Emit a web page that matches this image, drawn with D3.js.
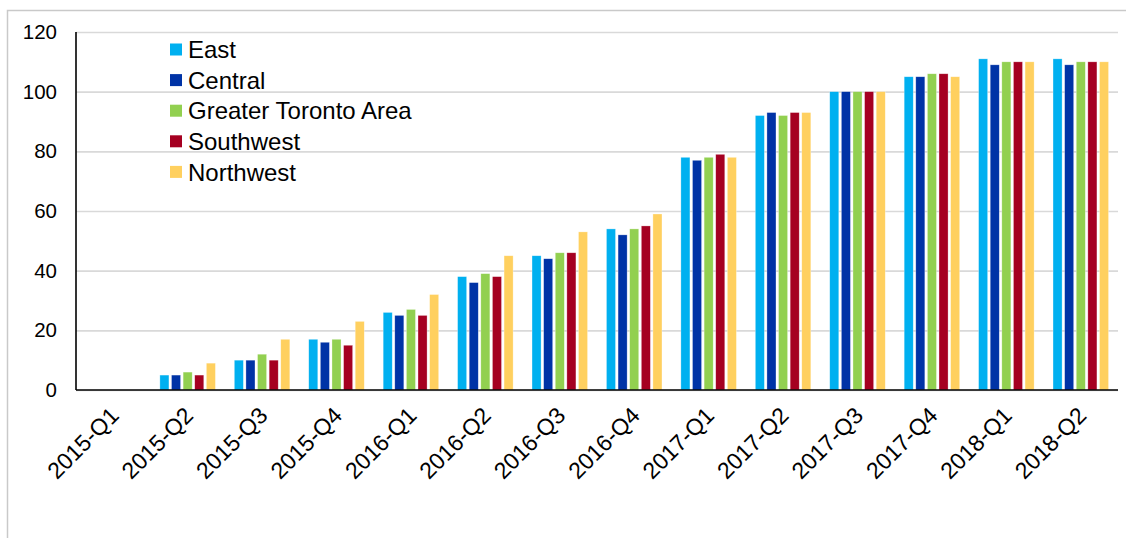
<!DOCTYPE html>
<html>
<head>
  <meta charset="utf-8">
  <script src="https://cdn.jsdelivr.net/npm/d3@7"></script>
  <style>
    body { margin: 0; background: #fff; }
    text { font-family: "Liberation Sans", Arial, sans-serif; fill: #000; }
  </style>
</head>
<body>
<script>
  // quarters along the x axis
  var quarters = ["2015-Q1", "2015-Q2", "2015-Q3", "2015-Q4", "2016-Q1", "2016-Q2", "2016-Q3",
                  "2016-Q4", "2017-Q1", "2017-Q2", "2017-Q3", "2017-Q4", "2018-Q1", "2018-Q2"];

  // one array per region
  var east      = [0, 5, 10, 17, 26, 38, 45, 54, 78, 92, 100, 105, 111, 111];
  var central   = [0, 5, 10, 16, 25, 36, 44, 52, 77, 93, 100, 105, 109, 109];
  var gta       = [0, 6, 12, 17, 27, 39, 46, 54, 78, 92, 100, 106, 110, 110];
  var southwest = [0, 5, 10, 15, 25, 38, 46, 55, 79, 93, 100, 106, 110, 110];
  var northwest = [0, 9, 17, 23, 32, 45, 53, 59, 78, 93, 100, 105, 110, 110];

  var regions = ["East", "Central", "Greater Toronto Area", "Southwest", "Northwest"];
  var regionValues = [east, central, gta, southwest, northwest];
  var colors = ["#00B0F0", "#0033A6", "#92D050", "#A50021", "#FFD05F"];

  var yTicks = [0, 20, 40, 60, 80, 100, 120];

  function draw() {
    var width = 1126, height = 538;
    var plotLeft = 76, plotRight = 1118, plotTop = 32, plotBottom = 390;

    var svg = d3.select("body").append("svg")
        .attr("width", width)
        .attr("height", height);

    // outer frame (only top and left edge show)
    svg.append("path")
        .attr("d", "M7.5," + height + "V10.5H" + width)
        .attr("fill", "none")
        .attr("stroke", "#c9c9c9")
        .attr("stroke-width", 1.5);

    var x0 = d3.scaleBand().domain(quarters).range([plotLeft, plotRight]).paddingInner(0.254).paddingOuter(0.127);
    var x1 = d3.scaleBand().domain(d3.range(regions.length)).range([0, x0.bandwidth()]).paddingInner(0.22);
    var y = d3.scaleLinear().domain([0, 120]).range([plotBottom, plotTop]);

    // gridlines + y labels
    var yAxis = svg.append("g")
        .attr("transform", "translate(" + plotLeft + ",0)")
        .call(d3.axisLeft(y).tickValues(yTicks).tickSizeInner(-(plotRight - plotLeft)).tickSizeOuter(0).tickPadding(19));
    yAxis.select(".domain").remove();
    yAxis.selectAll(".tick line").attr("stroke", "#d9d9d9").attr("stroke-width", 1.6);
    yAxis.selectAll(".tick text")
        .attr("fill", "#000")
        .style("font-size", "20.5px")
        .style("font-family", "Liberation Sans, Arial, sans-serif");

    // bars
    var rows = quarters.map(function (q, i) {
      return { q: q, vals: regionValues.map(function (arr) { return arr[i]; }) };
    });

    var groups = svg.append("g").selectAll("g")
        .data(rows)
        .enter().append("g")
        .attr("transform", function (d) { return "translate(" + x0(d.q) + ",0)"; });

    groups.selectAll("rect")
        .data(function (d) {
          return d.vals.map(function (v, k) { return { k: k, v: v }; }).filter(function (e) { return e.v > 0; });
        })
        .enter().append("rect")
        .attr("x", function (d) { return x1(d.k); })
        .attr("y", function (d) { return y(d.v); })
        .attr("width", x1.bandwidth())
        .attr("height", function (d) { return y(0) - y(d.v); })
        .attr("fill", function (d) { return colors[d.k]; })
        .attr("stroke", "#fff")
        .attr("stroke-opacity", 0.5)
        .attr("stroke-width", 0.6);

    // axis lines
    svg.append("line")
        .attr("x1", plotLeft).attr("x2", plotLeft).attr("y1", y(120)).attr("y2", y(0))
        .attr("stroke", "#000").attr("stroke-width", 1.6);
    svg.append("line")
        .attr("x1", plotLeft).attr("x2", plotRight).attr("y1", y(0)).attr("y2", y(0))
        .attr("stroke", "#000").attr("stroke-width", 1.6);

    // rotated quarter labels
    svg.append("g").selectAll("text")
        .data(quarters)
        .enter().append("text")
        .attr("transform", function (d) {
          return "translate(" + (x0(d) + x0.bandwidth() / 2 + 7) + ",417) rotate(-45)";
        })
        .attr("text-anchor", "end")
        .style("font-size", "23px")
        .text(function (d) { return d; });

    // legend
    var legend = svg.append("g").selectAll("g")
        .data(regions)
        .enter().append("g")
        .attr("transform", function (d, i) { return "translate(170," + (49.5 + i * 30.6) + ")"; });
    legend.append("rect")
        .attr("x", 0).attr("y", -6)
        .attr("width", 12).attr("height", 12)
        .attr("fill", function (d, i) { return colors[i]; });
    legend.append("text")
        .attr("x", 18).attr("dy", "0.36em")
        .style("font-size", "24px")
        .text(function (d) { return d; });
  }

  draw();
</script>
</body>
</html>
